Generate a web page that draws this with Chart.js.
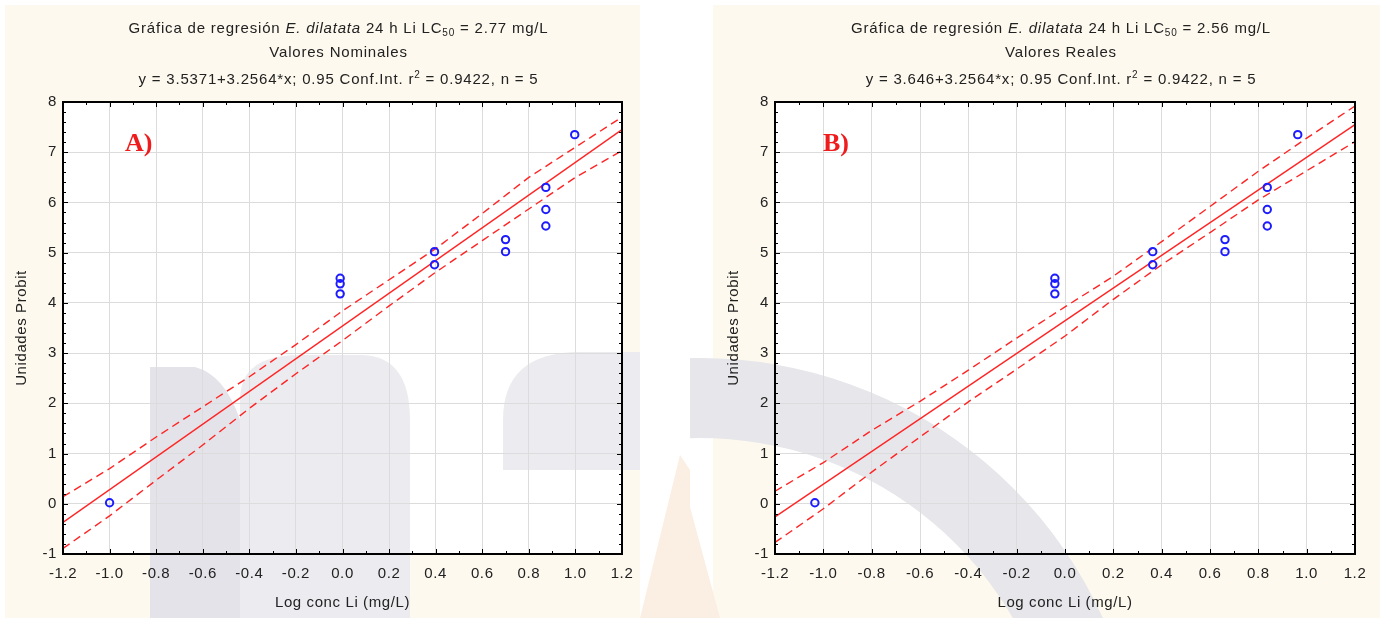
<!DOCTYPE html>
<html>
<head>
<meta charset="utf-8">
<script src="https://cdn.jsdelivr.net/npm/chart.js@4.4.0/dist/chart.umd.min.js"></script>
<style>
  body { margin: 0; background: #fff; width: 1380px; height: 618px; overflow: hidden; position: relative; }
  .panel { position: absolute; top: 0; width: 690px; height: 618px; }
</style>
</head>
<body>
<div class="panel" style="left:0"><canvas id="chartA"></canvas></div>
<div class="panel" style="left:690px"><canvas id="chartB"></canvas></div>
<script>
// probit units (same observations in both panels)
const probit = [0.02, 4.49, 4.38, 4.18, 5.02, 4.76, 5.26, 5.02, 6.30, 5.86, 5.53, 7.35];
// log concentration, nominal (A) and measured (B)
const logNominal = [-1.0, -0.01, -0.01, -0.01, 0.395, 0.395, 0.70, 0.70, 0.873, 0.873, 0.873, 0.997];
const logReal = [-1.035, -0.042, -0.042, -0.042, 0.363, 0.363, 0.662, 0.662, 0.837, 0.837, 0.837, 0.963];

// regression line ends
const fitX = [-1.2, 1.2];
const fitA = [-0.37, 7.45];
const fitB = [-0.26, 7.55];

// 0.95 confidence bands
const bandX = [-1.2, -1.0, -0.8, -0.6, -0.4, -0.2, 0.0, 0.2, 0.4, 0.6, 0.8, 1.0, 1.2];
const upperA = [0.14, 0.70, 1.33, 1.93, 2.53, 3.17, 3.84, 4.46, 5.08, 5.78, 6.50, 7.10, 7.70];
const lowerA = [-0.89, -0.24, 0.47, 1.17, 1.90, 2.59, 3.25, 3.94, 4.61, 5.24, 5.87, 6.50, 7.03];
const upperB = [0.25, 0.82, 1.46, 2.04, 2.66, 3.30, 3.92, 4.53, 5.22, 5.92, 6.62, 7.28, 7.92];
const lowerB = [-0.77, -0.10, 0.63, 1.33, 2.03, 2.68, 3.34, 4.07, 4.76, 5.40, 6.05, 6.63, 7.21];

const xTicks = [-1.2, -1.0, -0.8, -0.6, -0.4, -0.2, 0.0, 0.2, 0.4, 0.6, 0.8, 1.0, 1.2];
const yTicks = [-1, 0, 1, 2, 3, 4, 5, 6, 7, 8];

const FONT = '"Liberation Sans", Arial, sans-serif';
const RED = '#ff2424';
const BLUE = '#1c1cff';

function pts(xs, ys) {
    return xs.map((x, i) => ({ x: x, y: ys[i] }));
}

// draw a line of text made of pieces with different fonts
function richLine(ctx, parts, cx, y) {
    let w = 0;
    parts.forEach(p => { ctx.font = p.font; w += ctx.measureText(p.t).width; });
    let x = cx - w / 2;
    ctx.textAlign = 'left';
    ctx.textBaseline = 'middle';
    parts.forEach(p => {
        ctx.font = p.font;
        ctx.fillText(p.t, x, y + (p.dy || 0));
        x += ctx.measureText(p.t).width;
    });
}

// faint watermark left in the scanned figure
function watermark(ctx, side) {
    ctx.save();
    if (side === 'A') {
        ctx.fillStyle = '#ececf0';
        ctx.beginPath();
        ctx.moveTo(240, 618); ctx.lineTo(240, 400);
        ctx.quadraticCurveTo(240, 355, 300, 355);
        ctx.lineTo(360, 355);
        ctx.quadraticCurveTo(410, 355, 410, 420);
        ctx.lineTo(410, 618); ctx.closePath(); ctx.fill();
        ctx.beginPath();
        ctx.moveTo(503, 470); ctx.lineTo(503, 420);
        ctx.quadraticCurveTo(503, 352, 580, 352);
        ctx.lineTo(640, 352); ctx.lineTo(640, 470); ctx.closePath(); ctx.fill();
        ctx.fillStyle = '#e3e3e9';
        ctx.beginPath();
        ctx.moveTo(150, 618); ctx.lineTo(150, 367);
        ctx.lineTo(195, 367);
        ctx.quadraticCurveTo(225, 375, 240, 420);
        ctx.lineTo(240, 618); ctx.closePath(); ctx.fill();
        ctx.fillStyle = '#fbeee2';
        ctx.beginPath();
        ctx.moveTo(640, 618); ctx.lineTo(680, 455); ctx.lineTo(690, 470); ctx.lineTo(690, 618);
        ctx.closePath(); ctx.fill();
    } else {
        // ring centred below-left of the panel (canvas offset 690)
        ctx.fillStyle = '#e6e6eb';
        ctx.beginPath();
        ctx.arc(10, 800, 442, -Math.PI * 0.53, -Math.PI * 0.08);
        ctx.arc(10, 800, 362, -Math.PI * 0.08, -Math.PI * 0.53, true);
        ctx.closePath(); ctx.fill();
        ctx.fillStyle = '#fbeee2';
        ctx.beginPath();
        ctx.moveTo(-10, 470); ctx.lineTo(30, 618); ctx.lineTo(0, 618);
        ctx.closePath(); ctx.fill();
    }
    ctx.restore();
}

const panelDeco = {
    id: 'panelDeco',
    beforeDraw(chart, args, o) {
        const ctx = chart.ctx, a = chart.chartArea;
        ctx.letterSpacing = '0.6px';
        ctx.save();
        ctx.fillStyle = '#fdf9ee';
        ctx.fillRect(o.creamLeft, 5, o.creamRight - o.creamLeft, 613);
        ctx.fillStyle = '#ffffff';
        ctx.fillRect(a.left, a.top, a.right - a.left, a.bottom - a.top);
        watermark(ctx, o.letter[0]);
        ctx.restore();
    },
    afterDatasetsDraw(chart, args, o) {
        const ctx = chart.ctx, a = chart.chartArea;
        const xs = chart.scales.x, ys = chart.scales.y;
        ctx.save();
        // small ticks on all four sides
        ctx.strokeStyle = '#000';
        ctx.lineWidth = 1;
        ctx.beginPath();
        for (let i = -12; i <= 12; i++) {
            const px = Math.round(xs.getPixelForValue(i / 10)) + 0.5;
            const len = i % 2 === 0 ? 5 : 3;
            ctx.moveTo(px, a.bottom); ctx.lineTo(px, a.bottom - len);
            ctx.moveTo(px, a.top); ctx.lineTo(px, a.top + len);
        }
        for (let j = -5; j <= 40; j++) {
            const py = Math.round(ys.getPixelForValue(j / 5)) + 0.5;
            const len = j % 5 === 0 ? 5 : 3;
            ctx.moveTo(a.left, py); ctx.lineTo(a.left + len, py);
            ctx.moveTo(a.right, py); ctx.lineTo(a.right - len, py);
        }
        ctx.stroke();
        // frame
        ctx.lineWidth = 2;
        ctx.strokeRect(a.left, a.top, a.right - a.left, a.bottom - a.top);
        // panel letter
        ctx.letterSpacing = '0px';
        ctx.fillStyle = '#ee1c1c';
        ctx.font = 'bold 26px "Liberation Serif", "Times New Roman", serif';
        ctx.textAlign = 'left';
        ctx.textBaseline = 'alphabetic';
        ctx.fillText(o.letter, a.left + o.letterDx, a.top + 49);
        // three title lines
        ctx.letterSpacing = '0.8px';
        ctx.fillStyle = '#222';
        const cx = (a.left + a.right) / 2 - 4;
        const n = '15px ' + FONT, it = 'italic 15px ' + FONT, sm = '10px ' + FONT;
        richLine(ctx, [
            { t: 'Gráfica de regresión ', font: n },
            { t: 'E. dilatata', font: it },
            { t: ' 24 h Li LC', font: n },
            { t: '50', font: sm, dy: 4 },
            { t: ' = ' + o.lc50 + ' mg/L', font: n }
        ], cx, 29);
        richLine(ctx, [{ t: o.sub, font: n }], cx, 53);
        richLine(ctx, [
            { t: 'y = ' + o.eq + '; 0.95 Conf.Int. r', font: n },
            { t: '2', font: sm, dy: -5 },
            { t: ' = 0.9422, n = 5', font: n }
        ], cx, 80);
        ctx.restore();
    }
};

function makeChart(id, xs, fit, upper, lower, deco, padLeft, padRight) {
    const ctx = document.getElementById(id).getContext('2d');
    return new Chart(ctx, {
        type: 'scatter',
        data: {
            datasets: [
                {
                    label: 'Observados',
                    data: pts(xs, probit),
                    borderColor: BLUE,
                    backgroundColor: 'rgba(0,0,0,0)',
                    pointRadius: 3.7,
                    pointBorderWidth: 2,
                },
                {
                    label: 'Regresión',
                    data: pts(fitX, fit),
                    showLine: true,
                    borderColor: RED,
                    borderWidth: 1.4,
                    pointRadius: 0,
                },
                {
                    label: 'Sup. 0.95',
                    data: pts(bandX, upper),
                    showLine: true,
                    borderColor: RED,
                    borderWidth: 1.4,
                    borderDash: [8, 5],
                    pointRadius: 0,
                },
                {
                    label: 'Inf. 0.95',
                    data: pts(bandX, lower),
                    showLine: true,
                    borderColor: RED,
                    borderWidth: 1.4,
                    borderDash: [8, 5],
                    pointRadius: 0,
                },
            ],
        },
        options: {
            responsive: true,
            maintainAspectRatio: false,
            animation: false,
            layout: { padding: { left: padLeft, right: padRight, top: 102, bottom: 0 } },
            plugins: {
                legend: { display: false },
                tooltip: { enabled: false },
                panelDeco: deco,
            },
            scales: {
                x: {
                    type: 'linear',
                    min: -1.2,
                    max: 1.2,
                    afterBuildTicks: s => { s.ticks = xTicks.map(v => ({ value: v })); },
                    afterFit: s => { s.height = 64; },
                    grid: { color: '#dcdcdc', drawTicks: false },
                    border: { display: false },
                    ticks: {
                        color: '#222',
                        font: { family: FONT, size: 15 },
                        padding: 11,
                        callback: v => (Math.abs(v) < 1e-9 ? 0 : v).toFixed(1),
                    },
                    title: {
                        display: true,
                        text: 'Log conc Li (mg/L)',
                        color: '#222',
                        font: { family: FONT, size: 15 },
                        padding: { top: 2, bottom: 6 },
                    },
                },
                y: {
                    min: -1,
                    max: 8,
                    afterBuildTicks: s => { s.ticks = yTicks.map(v => ({ value: v })); },
                    afterFit: s => { s.width = 51; },
                    grid: { color: '#dcdcdc', drawTicks: false },
                    border: { display: false },
                    ticks: {
                        color: '#222',
                        font: { family: FONT, size: 15 },
                        padding: 6,
                    },
                    title: {
                        display: true,
                        text: 'Unidades Probit',
                        color: '#222',
                        font: { family: FONT, size: 15 },
                        padding: { top: 1, bottom: 2 },
                    },
                },
            },
        },
        plugins: [panelDeco],
    });
}

makeChart('chartA', logNominal, fitA, upperA, lowerA,
    { letter: 'A)', letterDx: 62, lc50: '2.77', sub: 'Valores Nominales', eq: '3.5371+3.2564*x', creamLeft: 5, creamRight: 640 },
    12, 68);
makeChart('chartB', logReal, fitB, upperB, lowerB,
    { letter: 'B)', letterDx: 48, lc50: '2.56', sub: 'Valores Reales', eq: '3.646+3.2564*x', creamLeft: 23, creamRight: 690 },
    34, 25);
</script>
</body>
</html>
